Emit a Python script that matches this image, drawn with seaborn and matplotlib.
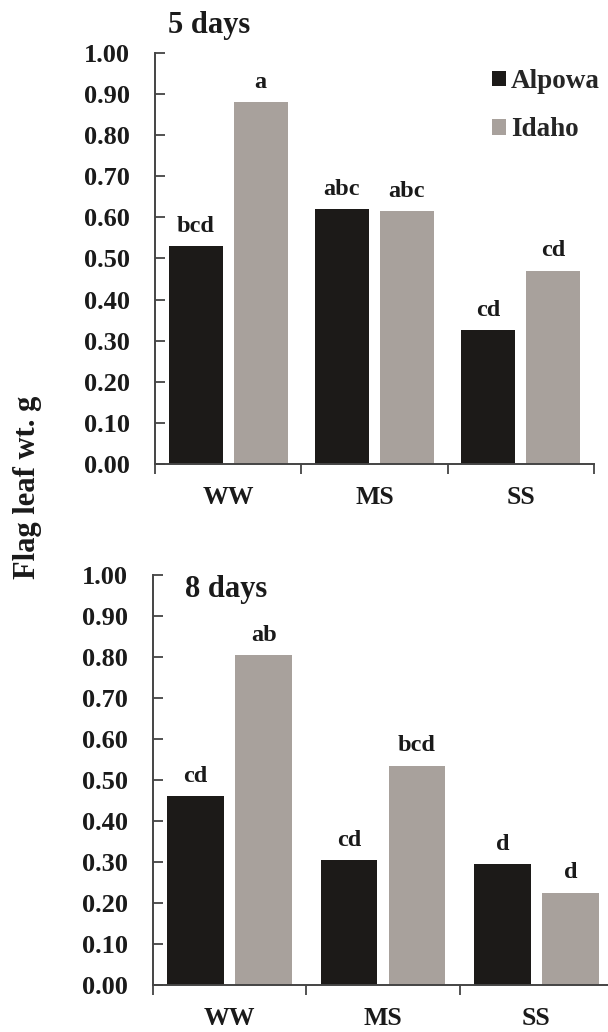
import numpy as np
import pandas as pd
import matplotlib
matplotlib.use("Agg")
import matplotlib.pyplot as plt
from matplotlib.patches import Patch
from matplotlib.ticker import FixedLocator
import seaborn as sns

# ── Data ─────────────────────────────────────────
TREATMENTS = ["WW", "MS", "SS"]
CULTIVARS = ["Alpowa", "Idaho"]

DAY5_ALPOWA = [0.53, 0.62, 0.325]
DAY5_IDAHO = [0.88, 0.615, 0.47]
DAY5_LETTERS_ALPOWA = ["bcd", "abc", "cd"]
DAY5_LETTERS_IDAHO = ["a", "abc", "cd"]

DAY8_ALPOWA = [0.46, 0.305, 0.295]
DAY8_IDAHO = [0.805, 0.535, 0.225]
DAY8_LETTERS_ALPOWA = ["cd", "cd", "d"]
DAY8_LETTERS_IDAHO = ["ab", "bcd", "d"]

YTICKS = [0.0, 0.1, 0.2, 0.3, 0.4, 0.5, 0.6, 0.7, 0.8, 0.9, 1.0]

COLORS = {"Alpowa": "#1c1a18", "Idaho": "#a8a19c"}
AXIS_COLOR = "#444444"
TEXT_COLOR = "#1a1a1a"

sns.set_style("white")
plt.rcParams["font.family"] = ["Liberation Serif", "DejaVu Serif"]
plt.rcParams["font.weight"] = "bold"


def long_table(alpowa, idaho):
    rows = []
    for t, a, i in zip(TREATMENTS, alpowa, idaho):
        rows.append({"treatment": t, "cultivar": "Alpowa", "weight": a})
        rows.append({"treatment": t, "cultivar": "Idaho", "weight": i})
    return pd.DataFrame(rows)


def draw_panel(ax, alpowa, idaho, letters_a, letters_i):
    df = long_table(alpowa, idaho)
    sns.barplot(data=df, x="treatment", y="weight", hue="cultivar",
                order=TREATMENTS, hue_order=CULTIVARS, palette=COLORS,
                width=0.888, gap=0.169, linewidth=0, saturation=1,
                errorbar=None, legend=False, ax=ax)

    # letters above bars
    for container, letters in zip(ax.containers, [letters_a, letters_i]):
        for bar, lab in zip(container, letters):
            ax.text(bar.get_x() + bar.get_width() / 2,
                    bar.get_height() + 0.035, lab,
                    ha="center", va="baseline",
                    fontsize=17.5, fontweight="bold", color=TEXT_COLOR)

    ax.set_xlim(-0.5, 2.5)
    ax.set_ylim(0, 1.0)
    ax.set_yticks(YTICKS)
    ax.set_yticklabels([f"{v:.2f}" for v in YTICKS])
    ax.set_xlabel("")
    ax.set_ylabel("")

    ax.xaxis.set_minor_locator(FixedLocator([-0.5, 0.5, 1.5, 2.5]))
    ax.tick_params(axis="x", which="major", length=0, pad=16,
                   labelsize=18.5, labelcolor=TEXT_COLOR)
    ax.tick_params(axis="x", which="minor", direction="out", length=7,
                   width=1.3, color=AXIS_COLOR, bottom=True)
    ax.tick_params(axis="y", direction="in", length=7, width=1.3,
                   color=AXIS_COLOR, pad=18, labelsize=19,
                   labelcolor=TEXT_COLOR, left=True)
    for lbl in ax.get_xticklabels() + ax.get_yticklabels():
        lbl.set_fontweight("bold")

    for side in ["top", "right"]:
        ax.spines[side].set_visible(False)
    for side in ["left", "bottom"]:
        ax.spines[side].set_color(AXIS_COLOR)
        ax.spines[side].set_linewidth(1.4)


fig = plt.figure(figsize=(6.08, 10.32), dpi=100)
ax_top = fig.add_axes([0.2549, 0.5504, 0.722, 0.3983])
ax_bot = fig.add_axes([0.2516, 0.0455, 0.7566, 0.3973])

draw_panel(ax_top, DAY5_ALPOWA, DAY5_IDAHO,
           DAY5_LETTERS_ALPOWA, DAY5_LETTERS_IDAHO)
draw_panel(ax_bot, DAY8_ALPOWA, DAY8_IDAHO,
           DAY8_LETTERS_ALPOWA, DAY8_LETTERS_IDAHO)

# panel titles
fig.text(168 / 608, 1 - 33 / 1032, "5 days", fontsize=22,
         fontweight="bold", ha="left", va="baseline", color=TEXT_COLOR)
fig.text(185 / 608, 1 - 597 / 1032, "8 days", fontsize=22,
         fontweight="bold", ha="left", va="baseline", color=TEXT_COLOR)

# shared y label
fig.text(28 / 608, 1 - 487 / 1032, "Flag leaf wt. g", rotation=90,
         fontsize=22, fontweight="bold", ha="center", va="center",
         color=TEXT_COLOR)

# legend
handles = [Patch(facecolor=COLORS[c], edgecolor="none", label=c)
           for c in CULTIVARS]
leg = ax_top.legend(handles=handles, loc="upper left",
                    bbox_to_anchor=(0.768, 0.96), frameon=False,
                    fontsize=19.5, handlelength=0.5, handleheight=0.5,
                    handletextpad=0.2, labelspacing=0.85, borderpad=0,
                    borderaxespad=0)
for t in leg.get_texts():
    t.set_fontweight("bold")

fig.savefig("out.png", dpi=100)
plt.close(fig)
